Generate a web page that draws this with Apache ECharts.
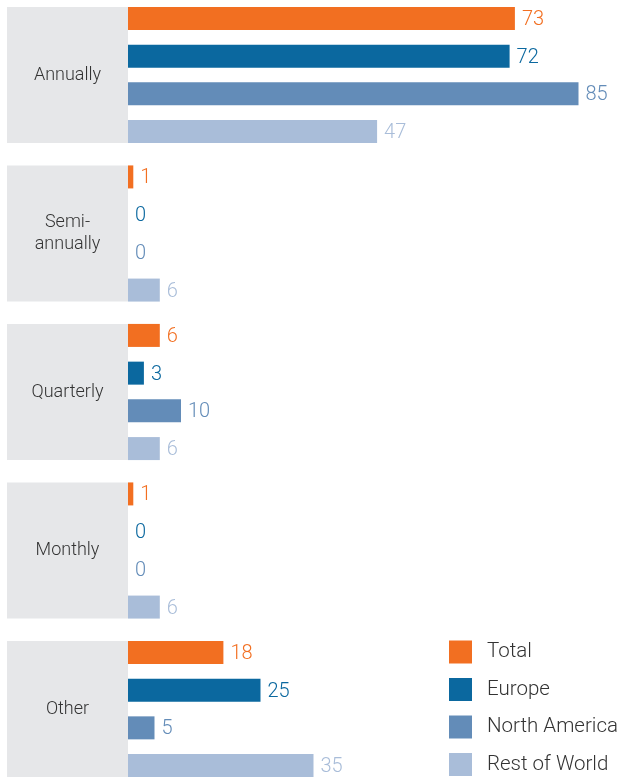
<!DOCTYPE html>
<html>
<head>
<meta charset="utf-8">
<script src="https://cdn.jsdelivr.net/npm/echarts@6/dist/echarts.min.js"></script>
<style>
  html, body { margin: 0; padding: 0; background: #fff; }
  #chart { width: 621px; height: 777px; }
</style>
</head>
<body>
<div id="chart"></div>
<script>
// Reporting frequency categories (top to bottom)
const categories = ['Annually', 'Semi-\nannually', 'Quarterly', 'Monthly', 'Other'];

// Values per region, in category order
const totalValues   = [73, 1, 6, 1, 18];
const europeValues  = [72, 0, 3, 0, 25];
const naValues      = [85, 0, 10, 0, 5];
const rowValues     = [47, 6, 6, 6, 35];

const seriesNames  = ['Total', 'Europe', 'North America', 'Rest of World'];
const seriesColors = ['#F26F21', '#0B689F', '#638CB8', '#A9BDD9'];
const seriesValues = [totalValues, europeValues, naValues, rowValues];

const FONT = 'Roboto, "Liberation Sans", sans-serif';

const chart = echarts.init(document.getElementById('chart'), null, { renderer: 'canvas' });

chart.setOption({
  animation: false,
  backgroundColor: '#ffffff',
  textStyle: { fontFamily: FONT },
  grid: {
    left: 128, right: 16, top: -4.25, height: 792.5,
    containLabel: false,
    outerBoundsMode: 'none'
  },
  xAxis: {
    type: 'value', min: 0, max: 90, show: false
  },
  yAxis: {
    type: 'category',
    inverse: true,
    data: categories,
    axisLine: { show: false },
    axisTick: { show: false },
    splitLine: { show: false },
    axisLabel: {
      margin: 60.5,
      align: 'center',
      verticalAlign: 'middle',
      width: 121,
      height: 132,
      padding: [4, 0, 0, 0],
      backgroundColor: '#E6E7E9',
      color: '#333333',
      fontFamily: FONT,
      fontWeight: 300,
      fontSize: 18,
      lineHeight: 22
    }
  },
  legend: {
    orient: 'vertical',
    left: 449,
    top: 640.5,
    padding: 0,
    itemWidth: 23,
    itemHeight: 23,
    itemGap: 14.5,
    icon: 'rect',
    data: seriesNames,
    textStyle: {
      fontFamily: FONT,
      fontWeight: 300,
      fontSize: 20.5,
      lineHeight: 18,
      color: '#333333',
      padding: [4, 0, 0, 10]
    }
  },
  series: seriesNames.map((name, i) => ({
    name: name,
    type: 'bar',
    data: seriesValues[i],
    barWidth: 23,
    barGap: '64%',
    itemStyle: { color: seriesColors[i] },
    label: {
      show: true,
      position: 'right',
      distance: 7,
      offset: [0, 1.5],
      color: seriesColors[i],
      fontFamily: FONT,
      fontWeight: 300,
      fontSize: 20
    }
  }))
});
</script>
</body>
</html>
